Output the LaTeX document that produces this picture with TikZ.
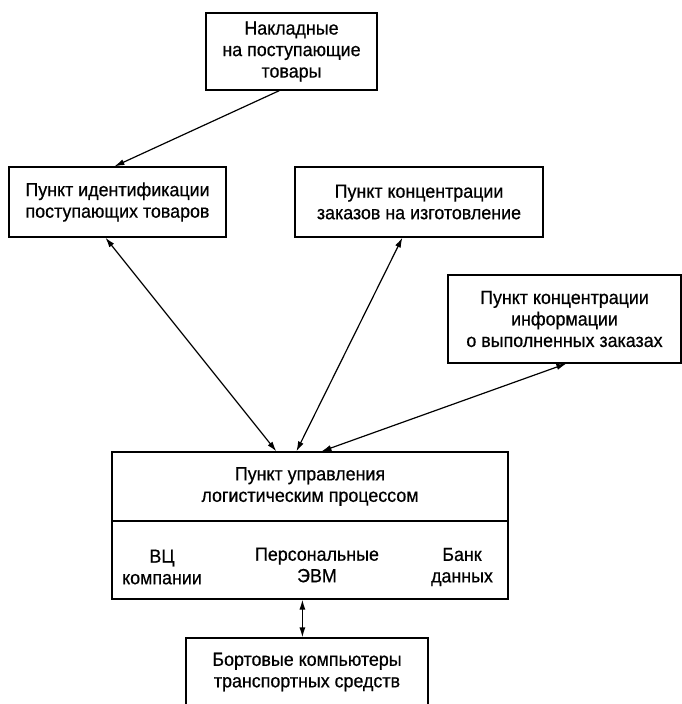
\documentclass[tikz,border=0pt]{standalone}
\usepackage{fontspec}
\setmainfont{Liberation Sans}[FakeStretch=0.94,FakeBold=0.6]
\usetikzlibrary{arrows.meta,calc}
\begin{document}
\begin{tikzpicture}[x=1pt,y=-1pt,
  box/.style={draw, line width=1.2pt, align=center, inner sep=0pt,
    font=\fontsize{19}{21.5}\selectfont},
  lbl/.style={align=center, inner sep=0pt, font=\fontsize{19}{21.5}\selectfont},
  link/.style={line width=1.2pt, -{Latex[length=10pt,width=6pt]}},
  dlink/.style={line width=1.2pt, {Latex[length=10pt,width=6pt]}-{Latex[length=10pt,width=6pt]}}]
\useasboundingbox (0,0) rectangle (682,704);
\clip (0,0) rectangle (682,704);

% source documents
\node[box, minimum width=171pt, minimum height=77pt] (bills) at (291.5,51.5)
  {Накладные\\на поступающие\\товары};

% reception points
\node[box, minimum width=217pt, minimum height=70pt] (ident) at (117.5,202)
  {Пункт идентификации\\поступающих товаров};
\node[box, minimum width=248pt, minimum height=70pt] (orders) at (419,202)
  {Пункт концентрации\\заказов на изготовление};
\node[box, minimum width=233pt, minimum height=88pt] (info) at (564.5,319)
  {Пункт концентрации\\информации\\о выполненных заказах};

% control centre, upper and lower parts
\node[box, minimum width=396pt, minimum height=69pt] (ctrl) at (310,486.5)
  {Пункт управления\\логистическим процессом};
\node[box, minimum width=396pt, minimum height=78pt] (tools) at (310,560) {};
\node[lbl] (vc) at (162,567) {ВЦ\\компании};
\node[lbl] (pc) at (317,565) {Персональные\\ЭВМ};
\node[lbl] (db) at (462,567) {Банк\\данных};

% on-board computers
\node[box, minimum width=242pt, minimum height=68pt] (board) at (307,672)
  {Бортовые компьютеры\\транспортных средств};

% connectors
\draw[link] ($(bills.south west)+(74,0)$) -- ($(ident.north west)+(106,0)$);
\draw[dlink] ($(ident.south west)+(97,0)$) -- ($(ctrl.north west)+(165,0)$);
\draw[dlink] ($(orders.south west)+(108,0)$) -- ($(ctrl.north west)+(185,0)$);
\draw[dlink] ($(info.south west)+(119,0)$) -- ($(ctrl.north west)+(210,0)$);
\draw[dlink] ($(tools.south west)+(191,0)$) -- ($(board.north west)+(117,0)$);
\end{tikzpicture}
\end{document}
